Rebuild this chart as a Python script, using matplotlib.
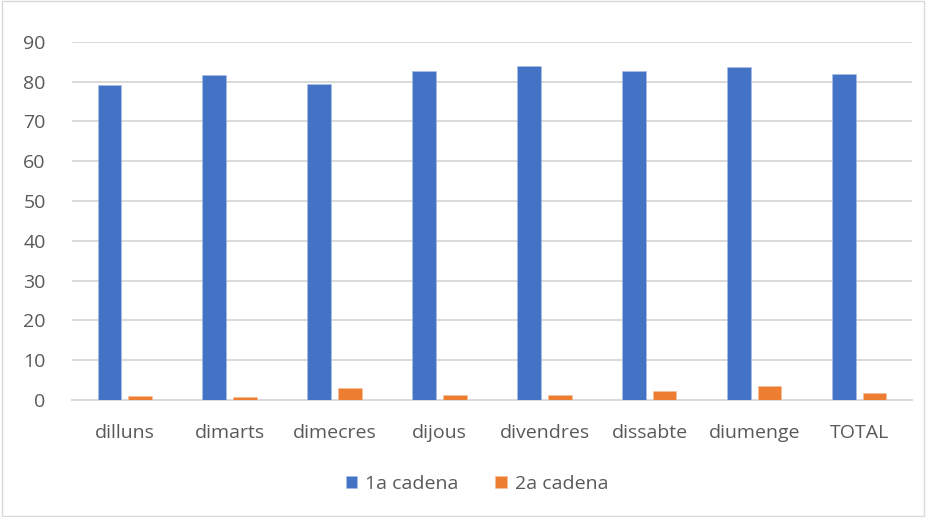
import matplotlib

matplotlib.use("Agg")
import matplotlib.pyplot as plt
import numpy as np
from matplotlib.patches import Rectangle

days = ["dilluns", "dimarts", "dimecres", "dijous", "divendres", "dissabte", "diumenge", "TOTAL"]
primera = [79.1, 81.6, 79.4, 82.6, 83.9, 82.6, 83.6, 82.0]
segona = [1.0, 0.7, 3.0, 1.35, 1.35, 2.3, 3.6, 1.7]
yticks = list(range(0, 100, 10))

BLUE = "#4472C4"
ORANGE = "#ED7D31"
GRID = "#D9D9D9"
TEXT = "#595959"

plt.rcParams["font.family"] = ["Open Sans", "DejaVu Sans"]

fig = plt.figure(figsize=(9.26, 5.17), dpi=100)
ax = fig.add_axes([0.0778, 0.2263, 0.907, 0.6927])

x = np.arange(len(days))
w = 0.225
off = 0.145
ax.bar(x - off, primera, w, color=BLUE, edgecolor="#A9BFE6", linewidth=0.4,
       label="1a cadena", zorder=3)
ax.bar(x + off, segona, w, color=ORANGE, edgecolor="#F6BE98", linewidth=0.4,
       label="2a cadena", zorder=3)

ax.set_xlim(-0.5, len(days) - 0.5)
ax.set_ylim(0, 90)
ax.set_yticks(yticks)
ax.set_xticks(x)
ax.set_xticklabels(days)
ax.yaxis.grid(True, color=GRID, linewidth=1.4, zorder=0)
ax.tick_params(axis="both", length=0, labelsize=14, colors=TEXT)
ax.tick_params(axis="x", pad=17)
ax.tick_params(axis="y", pad=19)
for side in ("top", "right", "left"):
    ax.spines[side].set_visible(False)
ax.spines["bottom"].set_color(GRID)
ax.spines["bottom"].set_linewidth(1.4)

leg = ax.legend(loc="center", bbox_to_anchor=(0.482, -0.235), ncol=2,
                frameon=False, fontsize=14, handlelength=0.6, handleheight=0.6,
                columnspacing=1.9, handletextpad=0.4)
for t in leg.get_texts():
    t.set_color(TEXT)

fig.patches.append(Rectangle((0.002, 0.002), 0.996, 0.996, transform=fig.transFigure,
                             fill=False, edgecolor="#D9D9D9", linewidth=1.0))

fig.savefig("out.png", dpi=100)
